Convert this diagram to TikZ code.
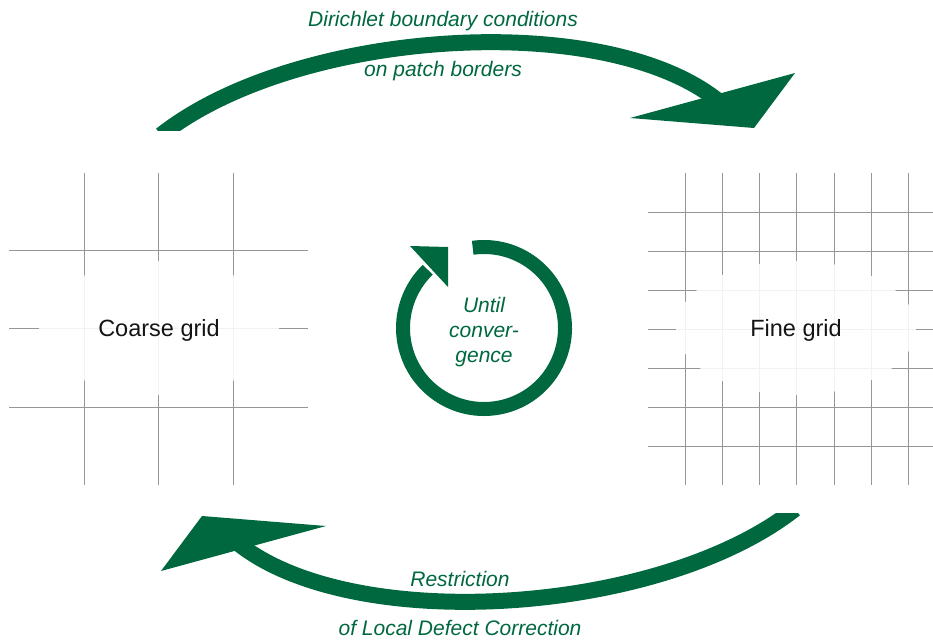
\documentclass[tikz,border=0pt]{standalone}
\usepackage{fontspec}
\setmainfont{Liberation Sans}
\usetikzlibrary{calc}
\usepackage{xcolor}
\definecolor{loopgreen}{RGB}{0,104,62}
\definecolor{gridgray}{RGB}{150,150,150}

\begin{document}
\begin{tikzpicture}[x=1pt,y=-1pt,
	gridname/.style={text=black!92, font=\fontsize{23.5}{28}\selectfont},
	stepname/.style={text=loopgreen, font=\fontsize{21}{25}\selectfont\itshape},
	gridline/.style={gridgray, line width=1pt}]
				%Page
				\useasboundingbox (0,0) rectangle (933,639);
				%Coarse grid
				\foreach \x in {84,158,233} {
					\draw [gridline] (\x,173) -- (\x,485);
				}
				\foreach \y in {250,328,407} {
					\draw [gridline] (9,\y) -- (308,\y);
				}
				%Fine grid
				\foreach \i in {0,...,6} {
					\draw [gridline] ({685+37.3*\i},173) -- ({685+37.3*\i},485);
					\draw [gridline] (648,{212+39*\i}) -- (933,{212+39*\i});
				}
				%White glow behind the grid names
				\fill [white, fill opacity=0.88] (159,328) ellipse [x radius=120, y radius=67];
				\fill [white, fill opacity=0.88] (796,328) ellipse [x radius=120, y radius=67];
				\node [gridname] (coarse) at (159,330) {Coarse grid};
				\node [gridname] (fine) at (796,330) {Fine grid};
				%Upper arrow, coarse to fine
				\coordinate (topTail) at (161,135);
				\coordinate (topEnd) at (722,104);
				\coordinate (topBackA) at (630,118);
				\coordinate (topBackB) at (795,73);
				\coordinate (topTip) at (754,128);
				\begin{scope}
					\clip (0,0) rectangle (933,131);
					\draw [loopgreen, line width=16pt] (topTail) .. controls (297,28) and (610,8) .. (topEnd);
				\end{scope}
				\fill [loopgreen] (topBackA) -- (topBackB) -- (topTip) -- cycle;
				\node [stepname] (dirichlet) at (443,21) {Dirichlet boundary conditions};
				\node [stepname] (patch) at (443,71) {on patch borders};
				%Lower arrow, fine to coarse
				\coordinate (botTail) at (795,509);
				\coordinate (botEnd) at (234,540);
				\coordinate (botBackA) at (326,526);
				\coordinate (botBackB) at (161,571);
				\coordinate (botTip) at (202,516);
				\begin{scope}
					\clip (0,513) rectangle (933,639);
					\draw [loopgreen, line width=16pt] (botTail) .. controls (659,616) and (346,636) .. (botEnd);
				\end{scope}
				\fill [loopgreen] (botBackA) -- (botBackB) -- (botTip) -- cycle;
				\node [stepname] (restriction) at (460,579) {Restriction};
				\node [stepname] (ldc) at (460,628) {of Local Defect Correction};
				%Loop in the middle
				\coordinate (loopCenter) at (484,328);
				\coordinate (loopBackA) at (410,246);
				\coordinate (loopBackB) at (448,287);
				\coordinate (loopTip) at (448,247);
				\draw [loopgreen, line width=14pt] ($(loopCenter)+(-98:81)$) arc [start angle=-98, end angle=226, radius=81];
				\fill [loopgreen] (loopBackA) -- (loopBackB) -- (loopTip) -- cycle;
				\node [stepname, align=center] (untilconv) at (484,332) {Until\\conver-\\gence};
\end{tikzpicture}
\end{document}
